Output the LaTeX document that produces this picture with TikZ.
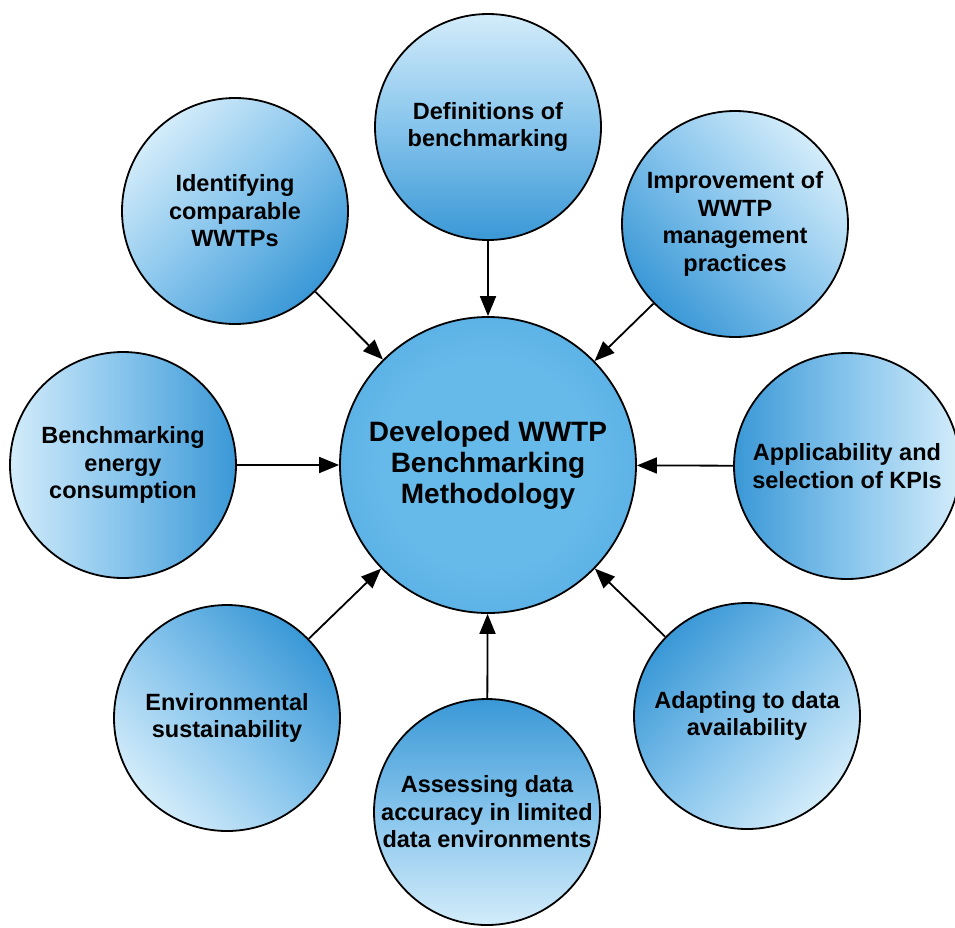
\documentclass[tikz,border=0pt]{standalone}
\usepackage{fontspec}
\setmainfont{Liberation Sans}
\usetikzlibrary{arrows.meta}

\definecolor{bluelight}{HTML}{D3ECFA}
\definecolor{bluemid}{HTML}{86C4EC}
\definecolor{bluedark}{HTML}{3A98D6}
\definecolor{hubin}{HTML}{66BAEA}
\definecolor{hubout}{HTML}{3C99D7}

\pgfdeclareradialshading{hubshade}{\pgfpoint{0bp}{0bp}}{color(0bp)=(hubin); color(18bp)=(hubin); color(50bp)=(hubout)}

\begin{document}
\begin{tikzpicture}[x=1pt, y=-1pt,
    topic/.style={circle, draw=black, line width=1.8pt, minimum size=226pt, inner sep=0pt,
        align=center, font=\fontsize{23.5}{27.5}\selectfont\bfseries,
        top color=bluelight, bottom color=bluedark, middle color=bluemid},
    hub/.style={circle, draw=black, line width=1.8pt, minimum size=296pt, inner sep=0pt,
        align=center, font=\fontsize{28}{31}\selectfont\bfseries, shading=hubshade},
    feed/.style={-{Triangle[length=20pt,width=16pt]}, line width=1.8pt}]
    \useasboundingbox (0,0) rectangle (955,927);
    % Hub
    \node[hub] (hub) at (488,465) {Developed WWTP\\Benchmarking\\Methodology};
    % Topics
    \node[topic, shading angle=0] (defs) at (488,127) {Definitions of\\benchmarking};
    \node[topic, shading angle=45] (ident) at (235,211) {Identifying\\comparable\\WWTPs};
    \node[topic, shading angle=-46] (improve) at (735,224) {Improvement of\\WWTP\\management\\practices};
    \node[topic, shading angle=90] (energy) at (123,465) {Benchmarking\\energy\\consumption};
    \node[topic, shading angle=-90] (kpi) at (847,466) {Applicability and\\selection of KPIs};
    \node[topic, shading angle=134] (envir) at (227,718) {Environmental\\sustainability};
    \node[topic, shading angle=180] (accur) at (487,812) {Assessing data\\accuracy in limited\\data environments};
    \node[topic, shading angle=-134] (adapt) at (747,716) {Adapting to data\\availability};
    % Arrows
    \foreach \t in {defs, ident, improve, energy, kpi, envir, accur, adapt} {
        \draw[feed] (\t) -- (hub);
    }
\end{tikzpicture}
\end{document}
